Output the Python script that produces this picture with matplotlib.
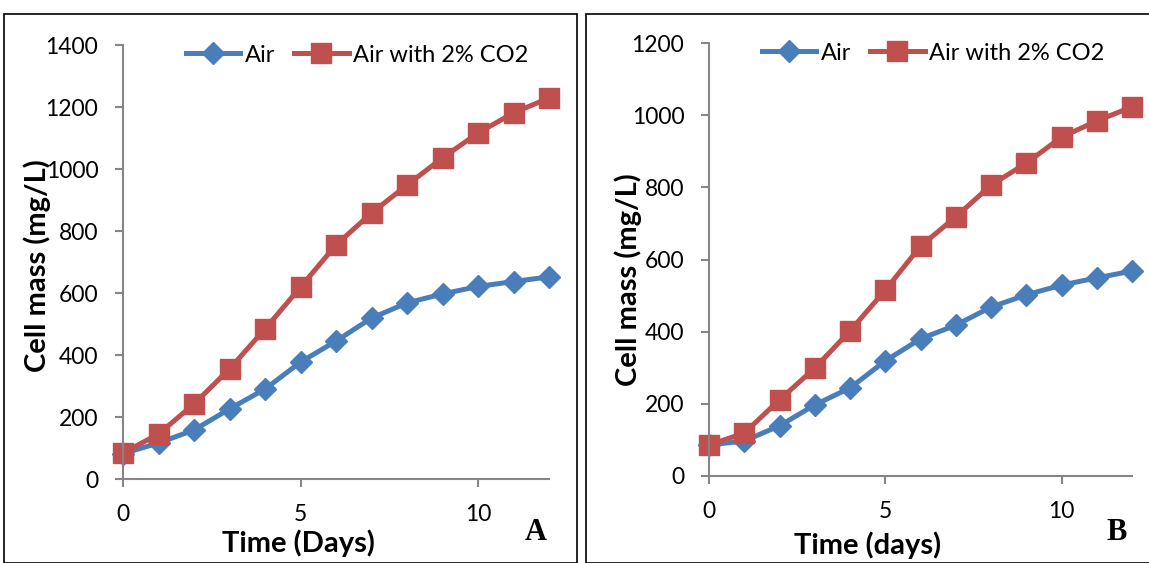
import numpy as np
import matplotlib.pyplot as plt
from matplotlib.patches import Rectangle

days = list(range(13))

air_a = [82, 116, 158, 226, 290, 377, 445, 519, 568, 597, 621, 637, 652]
co2_a = [84, 145, 242, 355, 484, 619, 755, 858, 948, 1036, 1116, 1181, 1229]

air_b = [86, 97, 139, 197, 244, 319, 380, 418, 468, 502, 529, 549, 568]
co2_b = [86, 119, 211, 299, 402, 515, 637, 718, 806, 867, 939, 984, 1023]

blue = '#4A7EBB'
red = '#C0504D'
grey = '#868686'
fnt = 'Lato'

W, H = 1149, 563
fig = plt.figure(figsize=(W / 100, H / 100), dpi=100)


def px(x, y):
    # pixel position (from top-left) -> figure fraction
    return x / W, 1 - y / H


# panel frames
for x0, x1 in [(4, 577), (586, 1160)]:
    fig.patches.append(Rectangle((x0 / W, 0), (x1 - x0) / W, 1 - 14 / H,
                                 transform=fig.transFigure, fill=False,
                                 edgecolor='black', lw=1.2))


def panel(box, air, co2, ymax, xlab, xlab_pos, letter, letter_pos, ylab_pos, leg_pos):
    l, r, t, b = box
    ax = fig.add_axes([l / W, 1 - b / H, (r - l) / W, (b - t) / H])
    ax.plot(days, air, '-D', color=blue, lw=3.6, markersize=11.5, label='Air', clip_on=False)
    ax.plot(days, co2, '-s', color=red, lw=3.6, markersize=14, label='Air with 2% CO2',
            clip_on=False)
    ax.set_xlim(0, 12)
    ax.set_ylim(0, ymax)
    ax.set_xticks([0, 5, 10])
    ax.set_yticks(np.arange(0, ymax + 1, 200))
    for s in ['top', 'right']:
        ax.spines[s].set_visible(False)
    for s in ['left', 'bottom']:
        ax.spines[s].set_color(grey)
        ax.spines[s].set_linewidth(1.5)
    ax.tick_params(axis='both', colors=grey, width=1.5, length=5.8, labelsize=16.5,
                   labelcolor='black', pad=12)
    for lbl in ax.get_xticklabels() + ax.get_yticklabels():
        lbl.set_fontfamily(fnt)
    fig.text(*px(*xlab_pos), xlab, fontsize=21, fontweight='bold', family=fnt,
             ha='center', va='center')
    fig.text(*px(*ylab_pos), 'Cell mass (mg/L)', rotation=90,
             fontsize=21, fontweight='bold', family=fnt, ha='center', va='center')
    fig.legend(handles=ax.get_lines(), loc='center left', bbox_to_anchor=px(*leg_pos),
               bbox_transform=fig.transFigure, ncol=2, frameon=False,
               prop={'family': fnt, 'size': 17}, handlelength=2.3, handletextpad=0.2,
               columnspacing=0.8, borderpad=0, borderaxespad=0)
    fig.text(*px(*letter_pos), letter, fontsize=22, fontweight='bold',
             family='Liberation Serif', ha='center', va='center')
    return ax


panel((123, 549, 45, 479), air_a, co2_a, 1400, 'Time (Days)', (298, 543),
      'A', (536, 533), (37, 266), (186, 55))
panel((709, 1132, 43, 476), air_b, co2_b, 1200, 'Time (days)', (868, 545),
      'B', (1117, 533), (628, 280), (762, 53))

fig.savefig('out.png', dpi=100)
